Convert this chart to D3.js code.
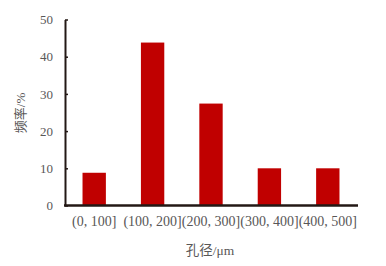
<!DOCTYPE html>
<html>
<head>
<meta charset="utf-8">
<script src="https://cdn.jsdelivr.net/npm/d3@7"></script>
<style>
  body { margin: 0; background: #fff; }
  text { font-family: "Liberation Serif", "Noto Sans CJK SC", serif; fill: #595757; }
</style>
</head>
<body>
<div class="chart"></div>
<script>
// data
const categories = ["(0, 100]", "(100, 200]", "(200, 300]", "(300, 400]", "(400, 500]"];
const frequency = [8.8, 43.8, 27.4, 10, 10];
const yTicks = [0, 10, 20, 30, 40, 50];

const W = 386, H = 266;
const margin = {top: 19.5, left: 65, right: 29, bottom: 60.5};
const width = W - margin.left - margin.right,
    height = H - margin.top - margin.bottom;

const svg = d3.select('.chart')
    .append('svg')
    .attr("width", W)
    .attr("height", H)
    .append("g")
    .attr("transform", "translate(" + margin.left + "," + margin.top + ")");

const xScale = d3.scaleBand()
    .domain(categories)
    .range([0, width])
    .paddingInner(0.6)
    .paddingOuter(0.3);

const yScale = d3.scaleLinear()
    .domain([0, 50])
    .range([height, 0]);

// bars
svg.selectAll('.bar')
    .data(categories)
    .enter()
    .append("rect")
    .attr("class", "bar")
    .attr("x", d => xScale(d))
    .attr("y", (d, i) => yScale(frequency[i]))
    .attr("width", xScale.bandwidth())
    .attr("height", (d, i) => height - yScale(frequency[i]))
    .style("fill", "#c00000");

// y axis
const yAxis = d3.axisLeft(yScale)
    .tickValues(yTicks)
    .tickSizeInner(-3)
    .tickSizeOuter(0)
    .tickPadding(12);

const gy = svg.append("g")
    .attr("class", "axis y-axis")
    .call(yAxis);
gy.select(".domain").attr("stroke", "#231815").attr("stroke-width", 2);
gy.selectAll(".tick line").attr("stroke", "#231815").attr("stroke-width", 1.5);
gy.selectAll(".tick text").style("font-size", "13px").attr("fill", "#595757");

// x axis
const xAxis = d3.axisBottom(xScale)
    .tickSize(0)
    .tickPadding(11);

const gx = svg.append("g")
    .attr("class", "axis x-axis")
    .attr("transform", "translate(0," + height + ")")
    .call(xAxis);
gx.select(".domain").attr("stroke", "#231815").attr("stroke-width", 2.5)
    .attr("d", "M-1,0H" + (width + 1));
gx.selectAll(".tick text").style("font-size", "14px").attr("fill", "#595757");

// axis titles
svg.append("text")
    .attr("class", "axis-title")
    .attr("text-anchor", "middle")
    .attr("transform", "translate(" + (20 - margin.left) + "," + (113 - margin.top) + ") rotate(-90)")
    .attr("dy", "0.35em")
    .style("font-size", "13px")
    .text("频率/%");

svg.append("text")
    .attr("class", "axis-title")
    .attr("text-anchor", "middle")
    .attr("x", 210 - margin.left)
    .attr("y", 250 - margin.top)
    .attr("dy", "0.35em")
    .style("font-size", "13.5px")
    .text("孔径/μm");
</script>
</body>
</html>
